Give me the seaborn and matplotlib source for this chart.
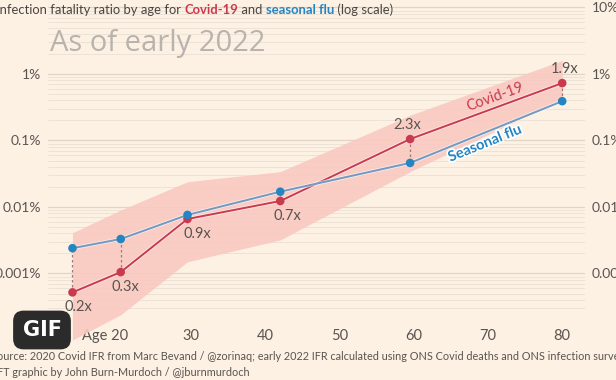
import numpy as np
import pandas as pd
import matplotlib
matplotlib.use("Agg")
import matplotlib.pyplot as plt
import matplotlib.patheffects as pe
from matplotlib.ticker import FixedLocator, NullFormatter
from matplotlib.transforms import ScaledTranslation
import seaborn as sns

# ---- data ----
ages = [14, 20.5, 29.5, 42, 59.5, 80]
covid_ifr = [0.00052, 0.00105, 0.0066, 0.0123, 0.105, 0.73]   # %
flu_ifr = [0.0024, 0.0033, 0.0076, 0.017, 0.046, 0.39]        # %
covid_low = [0.0001, 0.00024, 0.0015, 0.0032, 0.034, 0.42]
covid_high = [0.0041, 0.0090, 0.024, 0.034, 0.24, 1.6]
ratio_labels = ["0.2x", "0.3x", "0.9x", "0.7x", "2.3x", "1.9x"]
x_ticks = [20, 30, 40, 50, 60, 70, 80]
x_tick_labels = ["Age 20", "30", "40", "50", "60", "70", "80"]
y_ticks = [0.001, 0.01, 0.1, 1, 10]
y_tick_labels = ["0.001%", "0.01%", "0.1%", "1%", "10%"]

BG = "#fdf1e4"
RED = "#c93a4e"
BLUE = "#2385c2"
FLU_LINE = "#7199c2"
BAND = "#f9c9c1"
TXT = "#5a5450"
GRID = "#ebe0d4"

sns.set_style("white")
plt.rcParams["font.family"] = ["Lato", "DejaVu Sans"]

df = pd.DataFrame({"age": ages * 2,
                   "ifr": covid_ifr + flu_ifr,
                   "series": ["Covid-19"] * len(ages) + ["Seasonal flu"] * len(ages)})

fig = plt.figure(figsize=(6.16, 3.8), dpi=100, facecolor=BG)
ax = fig.add_axes([48 / 616, 66 / 380, 537 / 616, 309 / 380])
ax.set_facecolor(BG)
ax.set_yscale("log")
ax.set_xlim(10.7, 83.07)
ax.set_ylim(0.000246, 10.9)

# band
ax.fill_between(ages, covid_low, covid_high, color=BAND, alpha=0.9, lw=0,
                zorder=1, clip_on=False)

# grid
for v in y_ticks:
    ax.axhline(v, color="#e0d3c7", lw=0.9, zorder=0.5)
for dec in [0.0001, 0.001, 0.01, 0.1, 1]:
    for m in range(2, 10):
        v = dec * m
        if 0.000246 < v < 10.9:
            ax.axhline(v, color=GRID, lw=0.6, zorder=0.5)

# connectors
for a, c, f in zip(ages, covid_ifr, flu_ifr):
    ax.plot([a, a], [c, f], ls=(0, (2, 2)), color="#a07878", lw=0.9, zorder=2)

sns.lineplot(data=df, x="age", y="ifr", hue="series",
             palette={"Covid-19": RED, "Seasonal flu": FLU_LINE},
             lw=1.4, legend=False, ax=ax, zorder=3)
for line in ax.get_lines()[-2:]:
    line.set_path_effects([pe.Stroke(linewidth=2.6, foreground="white", alpha=0.6), pe.Normal()])
sns.scatterplot(data=df, x="age", y="ifr", hue="series",
                palette={"Covid-19": RED, "Seasonal flu": BLUE},
                s=38, edgecolor="none", legend=False, ax=ax, zorder=4)

# ratio labels
below_dx = [4.3, 3.5, 7, 5]
for i, (a, c, lab) in enumerate(zip(ages, covid_ifr, ratio_labels)):
    if i < 4:
        ax.annotate(lab, (a, c), xytext=(below_dx[i], -5.5), textcoords="offset points",
                    ha="center", va="top", fontsize=10.5, color=TXT)
    else:
        ax.annotate(lab, (a, c), xytext=(-2 if i == 4 else 2, 5), textcoords="offset points",
                    ha="center", va="bottom", fontsize=10.5, color=TXT)

ax.text(70.9, 0.45, "Covid-19", color=RED, fontsize=10.5, rotation=20,
        ha="center", va="center", zorder=5)
ax.text(69.6, 0.09, "Seasonal flu", color=BLUE, fontsize=10.5, rotation=22,
        ha="center", va="center", zorder=5, fontweight="bold",
        path_effects=[pe.withStroke(linewidth=2.5, foreground="white")])

# axes styling
for s in ax.spines.values():
    s.set_visible(False)
ax.set_xlabel("")
ax.set_ylabel("")
ax.set_xticks(x_ticks)
ax.set_xticklabels(x_tick_labels)
ax.tick_params(axis="x", length=5, width=0.8, color="#8a8480", pad=6,
               labelsize=10.5, labelcolor=TXT, direction="out")
lbl0 = ax.xaxis.get_major_ticks()[0].label1
lbl0.set_transform(lbl0.get_transform() + ScaledTranslation(-0.12, 0, fig.dpi_scale_trans))
ax.yaxis.set_major_locator(FixedLocator(y_ticks))
ax.yaxis.set_minor_formatter(NullFormatter())
ax.set_yticks(y_ticks)
ax.set_yticklabels(y_tick_labels)
ax.tick_params(axis="y", which="both", length=0, pad=5, labelsize=10,
               labelcolor=TXT, left=True, right=True, labelleft=True, labelright=True)
ax.yaxis.get_major_ticks()[-1].label1.set_visible(False)

# title with mixed colours
TS = 9.4
t1 = fig.text(-0.007, 1 - 10 / 380, "Infection fatality ratio by age for ", fontsize=TS,
              color="#4a4542", va="center", ha="left")
t2 = ax.annotate("Covid-19", xy=(1, 0), xycoords=t1, va="bottom", ha="left",
                 fontsize=TS, color=RED, fontweight="bold", annotation_clip=False)
t3 = ax.annotate(" and ", xy=(1, 0), xycoords=t2, va="bottom", ha="left",
                 fontsize=TS, color="#4a4542", annotation_clip=False)
t4 = ax.annotate("seasonal flu", xy=(1, 0), xycoords=t3, va="bottom", ha="left",
                 fontsize=TS, color=BLUE, fontweight="bold", annotation_clip=False)
t5 = ax.annotate(" (log scale)", xy=(1, 0), xycoords=t4, va="bottom", ha="left",
                 fontsize=TS, color="#4a4542", annotation_clip=False)

fig.text(50 / 616, 1 - 43 / 380, "As of early 2022", fontsize=21, color="#b9b3ad",
         va="center", ha="left", family=["Open Sans", "DejaVu Sans"])

# footer
fig.text(-0.014, 1 - 357 / 380,
         "Source: 2020 Covid IFR from Marc Bevand / @zorinaq; early 2022 IFR calculated using ONS Covid deaths and ONS infection survey",
         fontsize=7.8, color="#5a5450", va="center", ha="left")
fig.text(-0.005, 1 - 372 / 380, "FT graphic by John Burn-Murdoch / @jburnmurdoch",
         fontsize=7.8, color="#5a5450", va="center", ha="left")

# GIF badge
fig.text(42 / 616, 1 - 330 / 380, "GIF", fontsize=15, color="white", fontweight="bold",
         ha="center", va="center", family=["DejaVu Sans"],
         bbox=dict(boxstyle="round,pad=0.45,rounding_size=0.5", fc="#2b2b2b", ec="none"))

fig.savefig("out.png", dpi=100, facecolor=BG)
